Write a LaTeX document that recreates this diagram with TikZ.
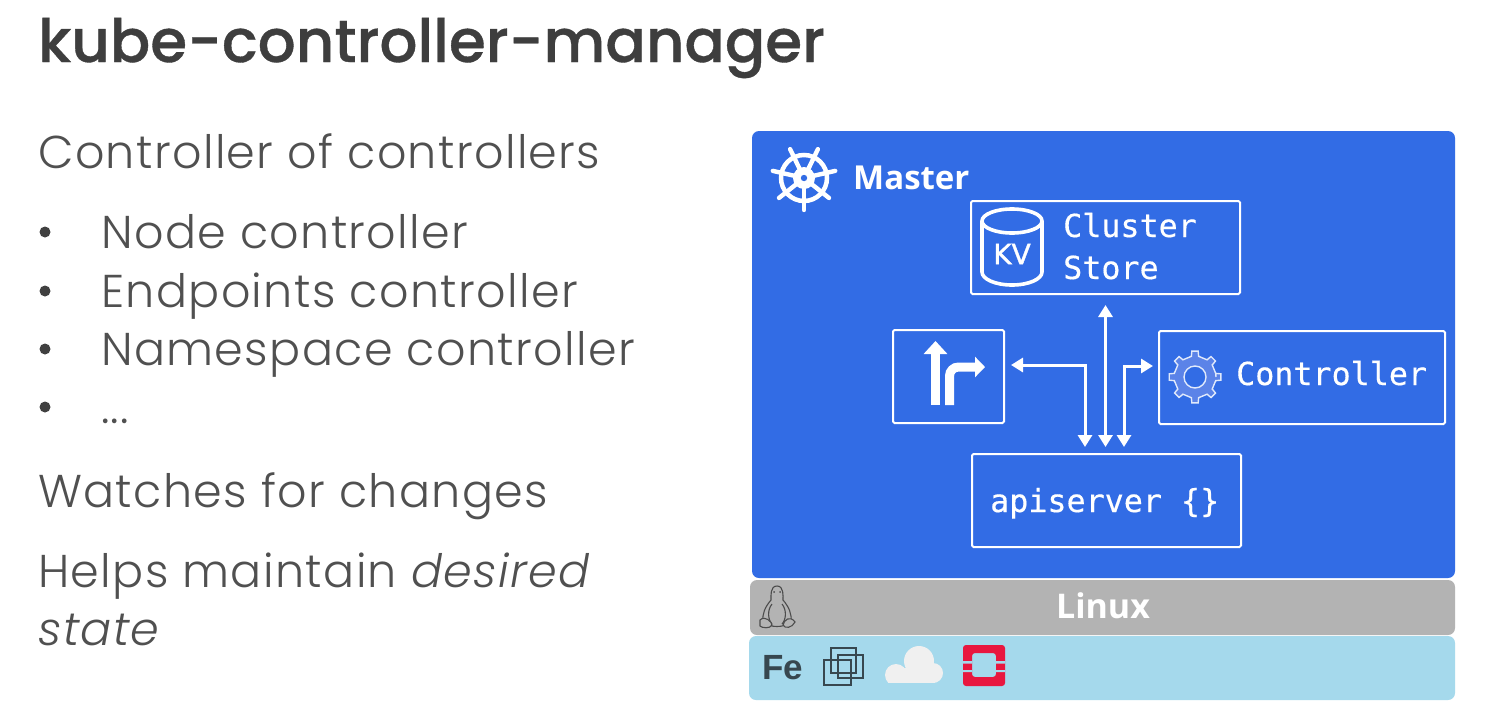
\documentclass[tikz,border=0pt]{standalone}
\usepackage{fontspec}
\setmainfont{Poppins}
\newfontfamily\lightf[LetterSpace=3]{Poppins Light}
\newfontfamily\titlef[FakeBold=0.6]{Poppins Medium}
\newfontfamily\monof[FakeBold=0.4]{DejaVu Sans Mono}
\newfontfamily\labelf{Open Sans}
\newfontfamily\kvf[FakeBold=1.2]{DejaVu Sans}
\newfontfamily\fef{Liberation Sans}
\usetikzlibrary{arrows.meta,calc}
\definecolor{masterblue}{HTML}{326CE5}
\definecolor{linuxgray}{HTML}{B3B3B3}
\definecolor{infra}{HTML}{A5D9EC}
\definecolor{titlec}{HTML}{3E3E3E}
\definecolor{bodyc}{HTML}{505050}
\definecolor{gearfill}{HTML}{5B83E8}
\definecolor{stackred}{HTML}{E8173F}
\definecolor{vmc}{HTML}{37474F}
\tikzset{
  x=1pt,y=-1pt,
  body/.style={anchor=base west,inner sep=0pt,text=bodyc,font=\lightf\fontsize{46}{46}\selectfont},
  bul/.style={circle,fill=bodyc!80!black,inner sep=0pt,minimum size=11pt},
  panel/.style={rounded corners=7pt,fill=#1,draw=none},
  wbox/.style={draw=white,line width=2pt,rounded corners=1.5pt,fill=none,anchor=north west,outer sep=0pt},
  mono/.style={text=white,font=\monof\fontsize{31.7}{31.7}\selectfont,inner sep=0pt},
  arr/.style={draw=white,line width=3pt,{Triangle[length=12pt,width=14pt]}-{Triangle[length=12pt,width=14pt]}},
}
\begin{document}
\begin{tikzpicture}
\useasboundingbox[fill=white] (0,0) rectangle (1490,715);
% left text
\node[anchor=base west,inner sep=0pt,text=titlec,font=\titlef\fontsize{59.6}{60}\selectfont] (title) at (38,62) {kube-controller-manager};
\node[body] (t1) at (38,168) {Controller of controllers};
\node[body] (t2) at (101,248) {Node controller};
\node[body] (t3) at (101,307) {Endpoints controller};
\node[body] (t4) at (101,365) {Namespace controller};
\node[body] (t5) at (101,423) {...};
\node[bul] (b2) at (45,232) {};
\node[bul] (b3) at (45,291) {};
\node[bul] (b4) at (45,349) {};
\node[bul] (b5) at (45,407) {};
\node[body] (t6) at (38,507) {Watches for changes};
\node[body] (t7) at (38,587) {Helps maintain \textit{desired}};
\node[body] (t8) at (38,645) {\textit{state}};
% panels
\fill[panel=infra] (749,636) rectangle (1455,700);
\fill[panel=linuxgray] (750,580) rectangle (1455,635);
\fill[panel=masterblue] (752,131) rectangle (1455,578);
\node[anchor=base,inner sep=0pt,text=white,font=\labelf\bfseries\fontsize{34}{34}\selectfont] (linux) at (1103,618) {Linux};
\node[anchor=base west,inner sep=0pt,text=white,font=\labelf\bfseries\fontsize{33}{33}\selectfont] (master) at (853,189) {Master};
\node[anchor=base west,inner sep=0pt,text=vmc,font=\fef\bfseries\fontsize{35}{35}\selectfont] (fe) at (762,679) {Fe};
% wheel
\begin{scope}[shift={(804,178)}]
  \draw[white,line width=4.5pt] (0,0) circle (23);
  \foreach \a in {0,...,6}{
    \draw[white,line width=4.4pt,line cap=round] (0,0) -- ({90+\a*360/7}:32);
  }
  \fill[white] (0,0) circle (11);
  \fill[masterblue] (0,0) circle (3.2);
\end{scope}
% boxes
\node[wbox,minimum width=269pt,minimum height=93pt] (store) at (971,201) {};
\node[wbox,minimum width=111pt,minimum height=93pt] (router) at (893,330) {};
\node[wbox,minimum width=286pt,minimum height=93pt] (ctrl) at (1159,331) {};
\node[wbox,minimum width=269pt,minimum height=93pt] (api) at (972,454) {};
\node[mono,anchor=base west] (l1) at (1063,237) {Cluster};
\node[mono,anchor=base west] (l2) at (1063,279) {Store};
\node[mono,anchor=base west] (l3) at (1236,385) {Controller};
\node[mono,anchor=base west] (l4) at (990,512) {apiserver \{\}};
% KV
\begin{scope}[white,line width=3.6pt]
  \draw (982,221) -- (982,272) arc[start angle=180,end angle=360,x radius=30,y radius=-13] -- (1042,221);
  \draw (1012,221) ellipse [x radius=30,y radius=12];
\end{scope}
\node[inner sep=0pt,text=white,font=\kvf\fontsize{28}{28}\selectfont] (kv) at (1012,254) {KV};
% router icon
\draw[white,line width=9pt,-{Triangle[length=13pt,width=23pt]}] (935.5,405) -- (935.5,341);
\draw[white,line width=9pt,rounded corners=9pt,-{Triangle[length=10pt,width=20pt]}] (949.5,405) -- (949.5,367) -- (985,367);
% gear
\begin{scope}[shift={(1195,377)}]
  \draw[white!85!masterblue,line width=1.4pt,fill=gearfill,even odd rule]
    (0:21) \foreach \a in {0,45,...,315}{
      -- ({\a-10}:21) -- ({\a-7}:26) -- ({\a+7}:26) -- ({\a+10}:21) -- ({\a+35}:21)
    } -- cycle (0:11) arc[start angle=0,end angle=360,radius=11];
\end{scope}
% penguin
\begin{scope}[draw=black!70,line width=1.1pt]
  \draw (777,586) .. controls (770,586) and (771,596) .. (771,600) .. controls (765,607) and (762,614) .. (763,622) .. controls (770,628) and (784,628) .. (791,622) .. controls (792,614) and (789,607) .. (783,600) .. controls (783,596) and (784,586) .. (777,586);
  \draw (772,604) .. controls (767,610) and (768,620) .. (772,624);
  \draw (782,604) .. controls (787,610) and (786,620) .. (782,624);
  \draw[fill=linuxgray] (760,620) .. controls (765,615) and (772,622) .. (772,625) .. controls (770,629) and (762,628) .. (760,626) -- cycle;
  \draw[fill=linuxgray] (795,622) .. controls (790,615) and (784,620) .. (783,625) .. controls (785,629) and (792,628) .. (795,622) -- cycle;
  \fill[black!70] (774,592) circle (1) (780,592) circle (1);
\end{scope}
% vmware
\begin{scope}[draw=vmc,line width=1.2pt]
  \draw (831,648) rectangle (856,673);
  \draw (838,655) rectangle (863,678);
  \draw (824,660) rectangle (851,685);
\end{scope}
% cloud
\begin{scope}
  \clip (880,682) rectangle (950,640);
  \fill[white!94!black] (896,675) circle (11);
  \fill[white!94!black] (919,661) circle (15);
  \fill[white!94!black] (933,673) circle (10);
  \fill[white!94!black] (896,668) rectangle (935,690);
\end{scope}
% openstack
\fill[stackred,even odd rule,rounded corners=3pt] (963,645) rectangle (1005,686) (972,653) rectangle (996,677);
\fill[infra] (963,661) rectangle (972,663.5) (996,661) rectangle (1005,663.5) (963,670) rectangle (972,672) (996,670) rectangle (1005,672);
% connectors
\draw[arr,shorten <=11pt,shorten >=7pt] (store.south) -- (store.south |- api.north);
\draw[arr,shorten <=7pt,shorten >=7pt] ([yshift=11.5pt]router.east) -| ([xshift=-21.5pt]api.north);
\draw[arr,shorten <=6pt,shorten >=7pt] ([yshift=11.5pt]ctrl.west) -| ([xshift=17.5pt]api.north);
\end{tikzpicture}
\end{document}
